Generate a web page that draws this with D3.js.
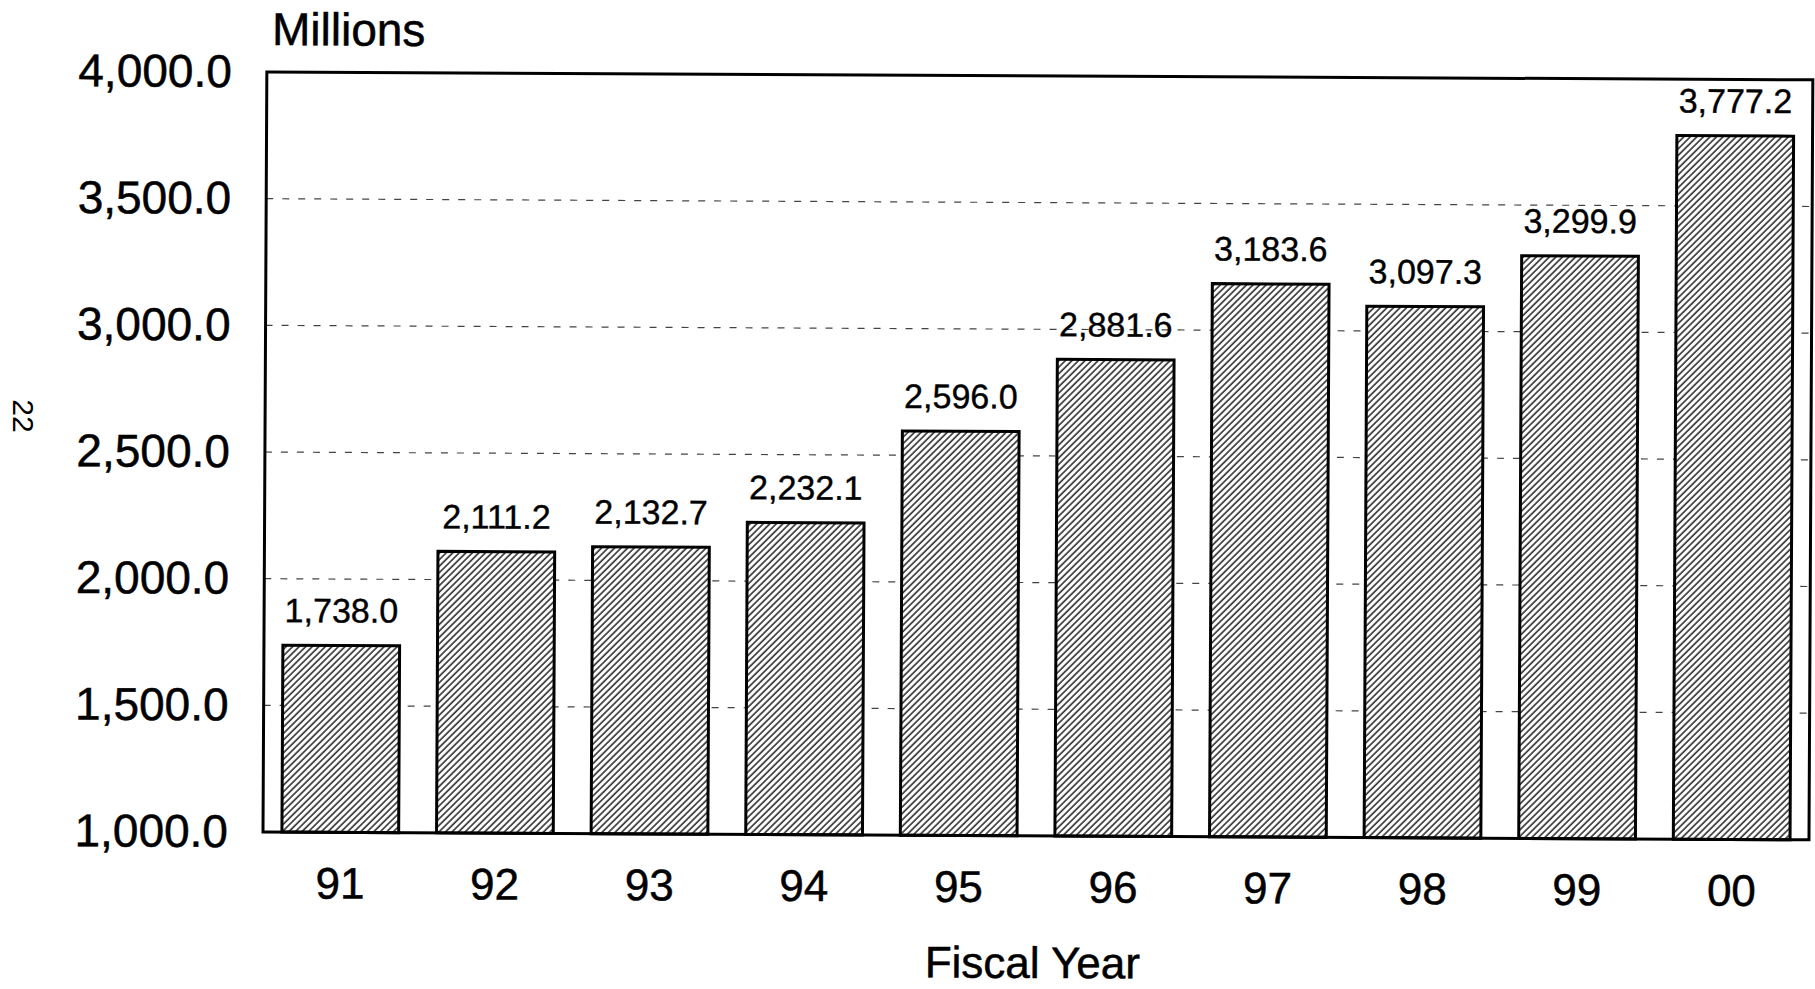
<!DOCTYPE html>
<body style="margin:0;background:#fff">
<svg width="1815" height="989" font-family="'Liberation Sans', Arial, sans-serif"></svg>
</body>
<script src="https://cdn.jsdelivr.net/npm/d3@7"></script>
<script>

var years = ["91", "92", "93", "94", "95", "96", "97", "98", "99", "00"];
var values = [1738.0, 2111.2, 2132.7, 2232.1, 2596.0, 2881.6, 3183.6, 3097.3, 3299.9, 3777.2];
var yTicks = [1000, 1500, 2000, 2500, 3000, 3500, 4000];

var svg = d3.select("svg");

// note: "top" is taken by window.top, so use other names
var pLeft = 263, pRight = 1809, pTop = 72, pBottom = 832;

var x = d3.scaleBand()
    .domain(years)
    .range([pLeft, pRight])
    .paddingInner(0.245)
    .paddingOuter(0.1225);

var y = d3.scaleLinear()
    .domain([1000, 4000])
    .range([pBottom, pTop]);

var fmt = d3.format(",.1f");

// diagonal hatch for the bars
var pat = svg.append("defs").append("pattern")
    .attr("id", "hatch")
    .attr("patternUnits", "userSpaceOnUse")
    .attr("width", 4.6)
    .attr("height", 10)
    .attr("patternTransform", "rotate(45)");
pat.append("rect").attr("width", 4.6).attr("height", 10).attr("fill", "#fff");
pat.append("line")
    .attr("x1", 1).attr("y1", 0).attr("x2", 1).attr("y2", 10)
    .attr("stroke", "#111").attr("stroke-width", 1.4);

// the scan is tilted a little
var g = svg.append("g")
    .attr("transform", "rotate(0.29," + pLeft + "," + pBottom + ")");

g.selectAll(".grid")
    .data(yTicks.filter(function(d) { return d > 1000 && d < 4000; }))
    .enter().append("line")
      .attr("class", "grid")
      .attr("x1", pLeft).attr("x2", pRight)
      .attr("y1", function(d) { return y(d); })
      .attr("y2", function(d) { return y(d); })
      .attr("stroke", "#444")
      .attr("stroke-width", 1.2)
      .attr("stroke-dasharray", "7,9");

var bar = g.selectAll(".bar")
    .data(values)
    .enter().append("g")
      .attr("class", "bar");

bar.append("rect")
    .attr("x", function(d, i) { return x(years[i]); })
    .attr("y", function(d) { return y(d); })
    .attr("width", x.bandwidth())
    .attr("height", function(d) { return y(1000) - y(d); })
    .attr("fill", "url(#hatch)")
    .attr("stroke", "#000")
    .attr("stroke-width", 3);

bar.append("text")
    .attr("x", function(d, i) { return x(years[i]) + x.bandwidth() / 2; })
    .attr("y", function(d) { return y(d) - 23; })
    .attr("text-anchor", "middle")
    .attr("font-size", 34)
    .attr("stroke", "#000").attr("stroke-width", 0.4)
    .text(function(d) { return fmt(d); });

g.append("rect")
    .attr("x", pLeft).attr("y", pTop)
    .attr("width", pRight - pLeft).attr("height", pBottom - pTop)
    .attr("fill", "none")
    .attr("stroke", "#000")
    .attr("stroke-width", 3);

var yAxis = g.append("g")
    .attr("transform", "translate(" + pLeft + ",0)")
    .call(d3.axisLeft(y).tickValues(yTicks).tickFormat(fmt).tickSize(0).tickPadding(35));
yAxis.select(".domain").remove();
yAxis.selectAll("text").attr("font-size", 46).attr("fill", "#000").attr("font-family", null)
    .attr("stroke", "#000").attr("stroke-width", 0.5);

var xAxis = g.append("g")
    .attr("transform", "translate(0," + pBottom + ")")
    .call(d3.axisBottom(x).tickSize(0).tickPadding(35));
xAxis.select(".domain").remove();
xAxis.selectAll("text").attr("font-size", 44).attr("fill", "#000").attr("font-family", null)
    .attr("stroke", "#000").attr("stroke-width", 0.5);

g.append("text")
    .attr("x", pLeft + 5)
    .attr("y", 45)
    .attr("font-size", 46)
    .attr("stroke", "#000").attr("stroke-width", 0.5)
    .text("Millions");

g.append("text")
    .attr("x", 1033)
    .attr("y", 974)
    .attr("text-anchor", "middle")
    .attr("font-size", 44)
    .attr("stroke", "#000").attr("stroke-width", 0.5)
    .text("Fiscal Year");

svg.append("text")
    .attr("transform", "translate(13,416) rotate(90)")
    .attr("text-anchor", "middle")
    .attr("font-size", 30)
    .text("22");

</script>
